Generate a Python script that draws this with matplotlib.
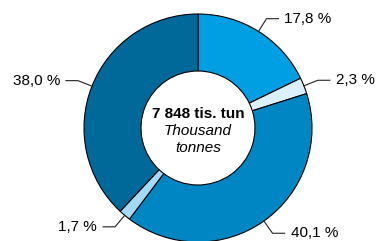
import numpy as np
import matplotlib
matplotlib.use("Agg")
import matplotlib.pyplot as plt

plt.rcParams['font.family'] = ['Liberation Sans', 'DejaVu Sans']

# data
shares = [17.8, 2.3, 40.1, 1.7, 38.0]
labels = ['17,8 %', '2,3 %', '40,1 %', '1,7 %', '38,0 %']
colors = ['#009fe3', '#dcf0fb', '#0087c3', '#a5daf5', '#00699a']
total_lines = ['7 848 tis. tun', 'Thousand', 'tonnes']

W, H = 380, 241
fig = plt.figure(figsize=(W / 100, H / 100), dpi=100)
ax = fig.add_axes([0, 0, 1, 1])

cx, cy, r = 198, 113, 114
wedges, _ = ax.pie(shares, colors=colors, startangle=90, counterclock=False,
                   center=(cx, cy), radius=r, frame=True,
                   wedgeprops=dict(width=r * 0.5, edgecolor='black', linewidth=0.8))
ax.set_xlim(0, W)
ax.set_ylim(0, H)
ax.set_aspect('equal')
ax.axis('off')

# leader lines + labels
for w, lab in zip(wedges, labels):
    ang = np.deg2rad((w.theta1 + w.theta2) / 2)
    dx, dy = np.cos(ang), np.sin(ang)
    p0 = (cx + r * dx, cy + r * dy)
    p1 = (cx + (r + 15) * dx, cy + (r + 15) * dy)
    side = 1 if dx > 0 else -1
    p2 = (p1[0] + side * 12, p1[1])
    ax.plot([p0[0], p1[0], p2[0]], [p0[1], p1[1], p2[1]], color='#222222', lw=0.8)
    ax.text(p2[0] + side * 6, p2[1], lab, fontsize=11,
            ha='left' if side > 0 else 'right', va='center')

# centre text
ax.text(cx, cy + 14, total_lines[0], fontsize=11, fontweight='bold', ha='center', va='center')
ax.text(cx, cy - 3, total_lines[1], fontsize=11, style='italic', ha='center', va='center')
ax.text(cx, cy - 20, total_lines[2], fontsize=11, style='italic', ha='center', va='center')

fig.savefig('out.png', dpi=100)
